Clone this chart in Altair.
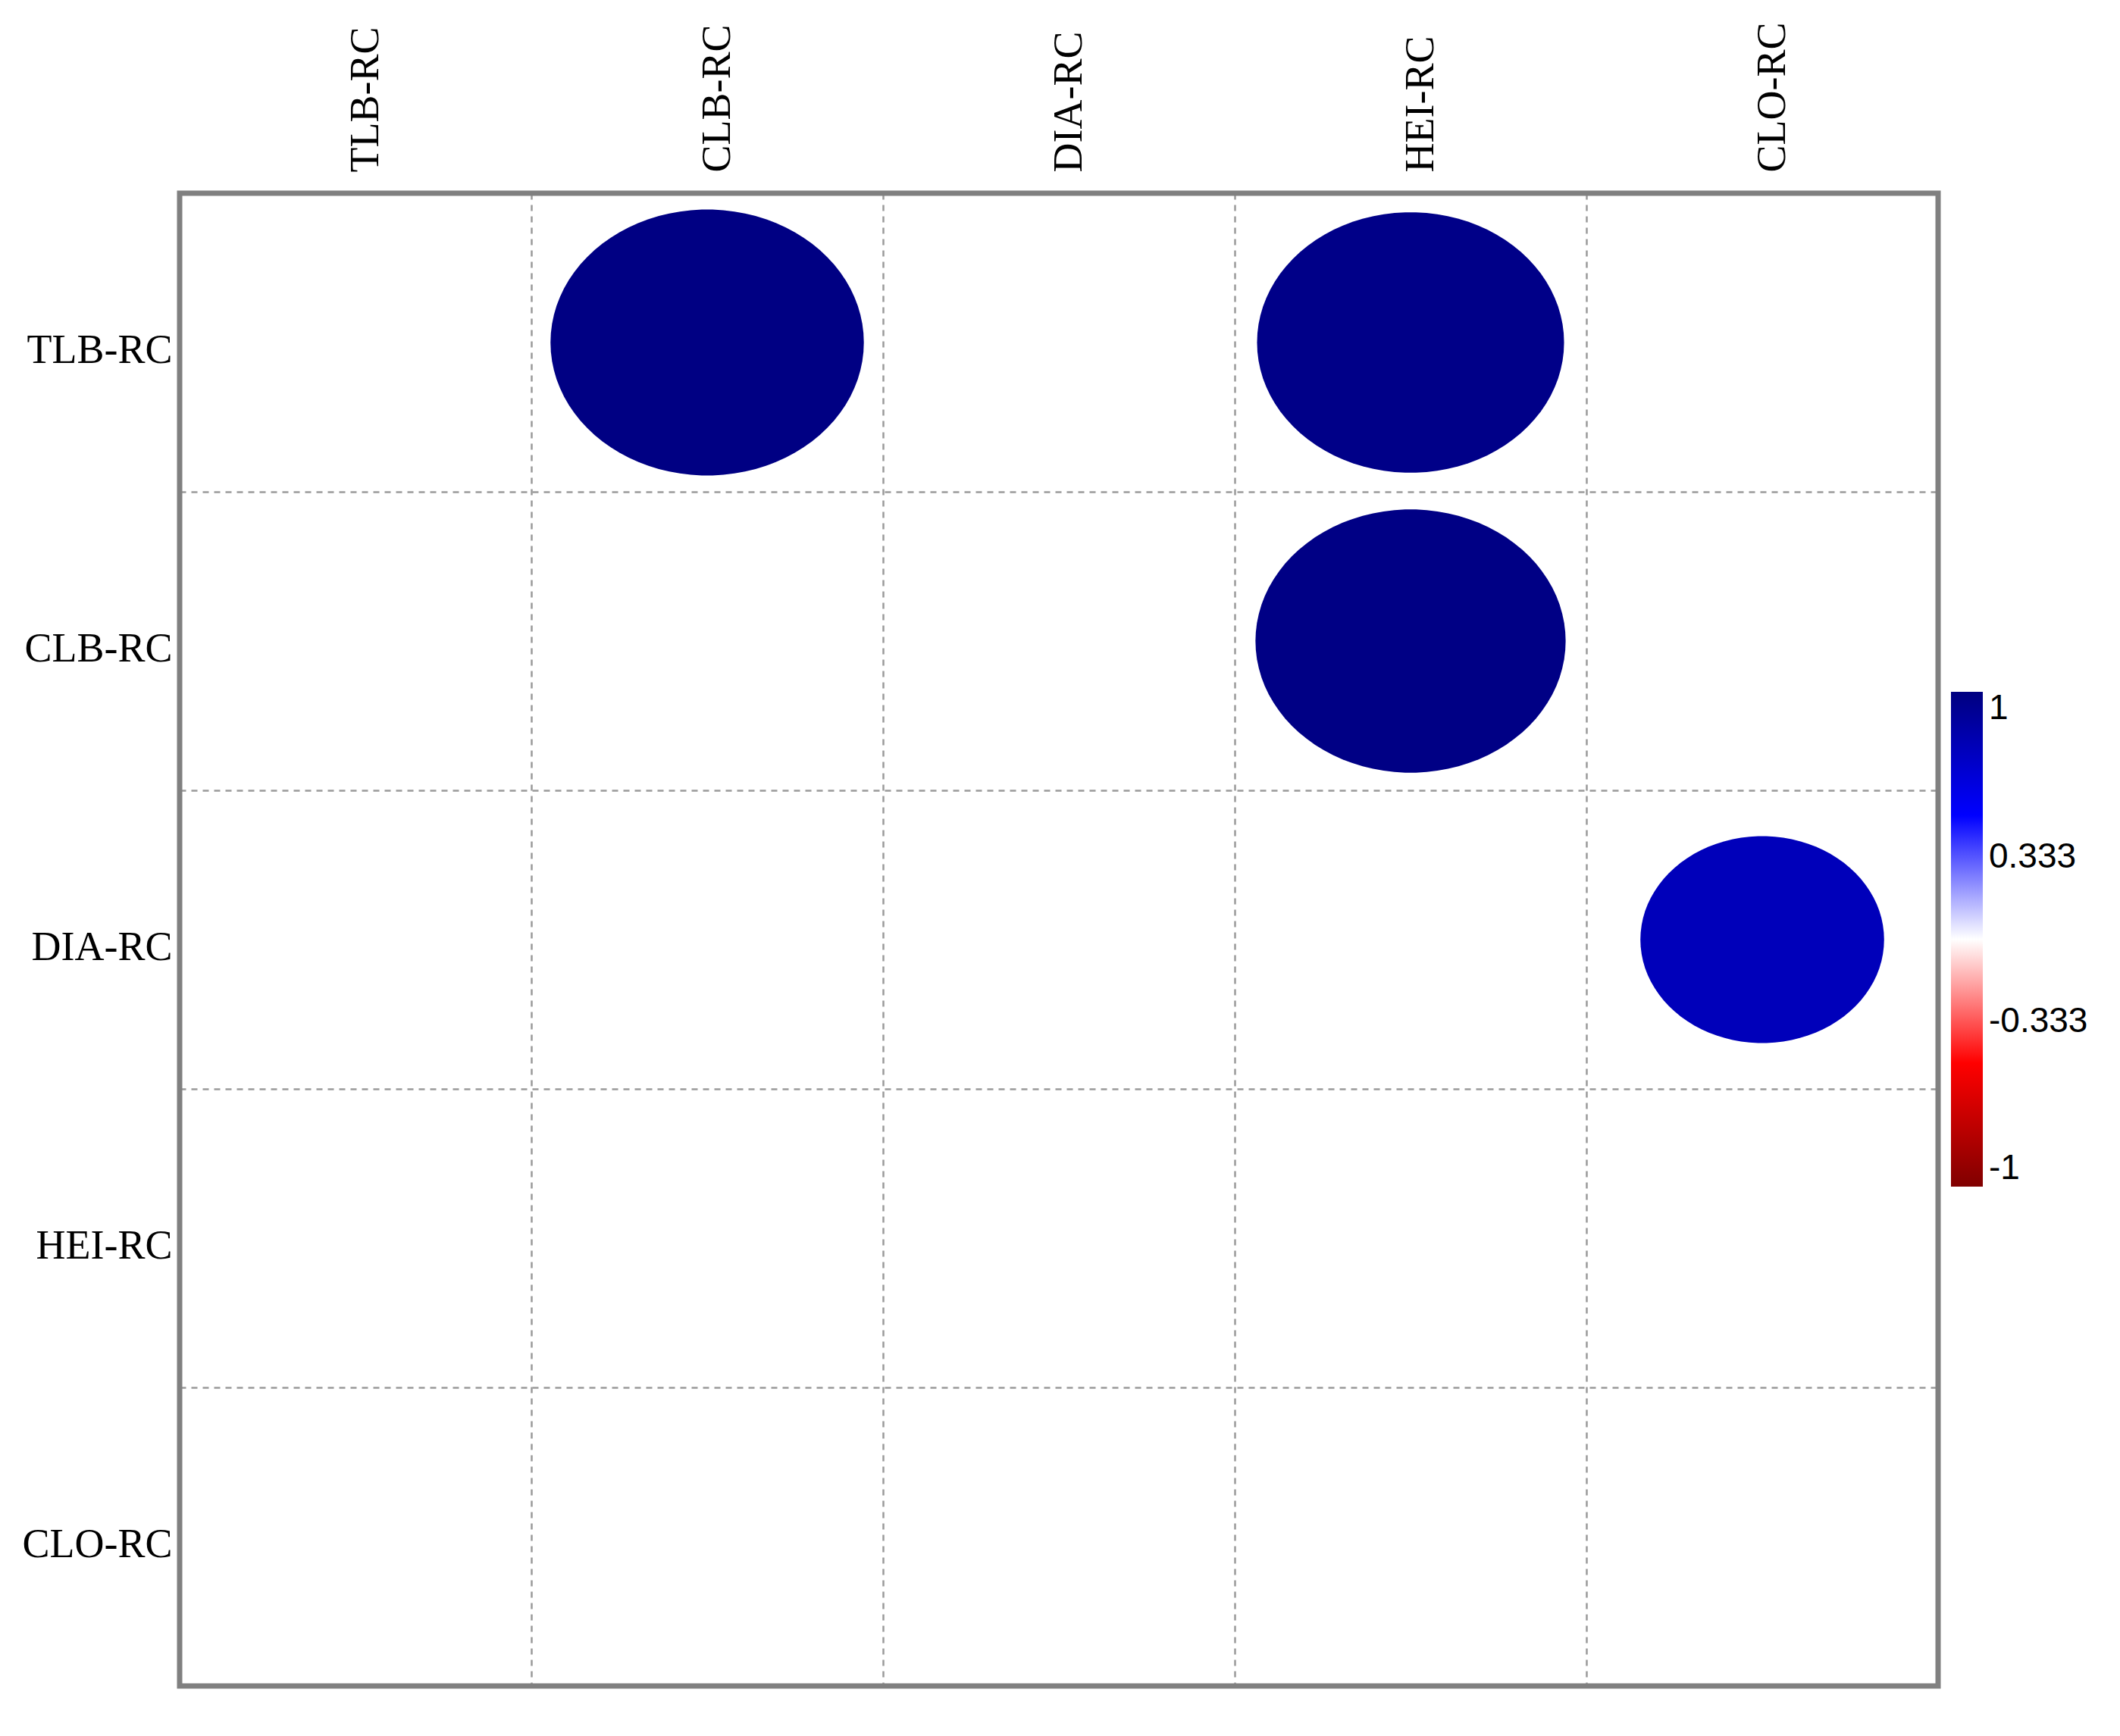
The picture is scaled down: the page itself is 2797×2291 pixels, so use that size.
import math
import altair as alt
import pandas as pd

# categories
labels = ["TLB-RC", "CLB-RC", "DIA-RC", "HEI-RC", "CLO-RC"]

# significant correlations shown in the matrix
row_vars = ["TLB-RC", "TLB-RC", "CLB-RC", "DIA-RC"]
col_vars = ["CLB-RC", "HEI-RC", "HEI-RC", "CLO-RC"]
corr_vals = [0.99, 0.97, 0.98, 0.77]

legend_ticks = [-1, -0.333, 0.333, 1]

W, H = 2320, 1970
n = len(labels)
cell_w, cell_h = W / n, H / n

df = pd.DataFrame({"row": row_vars, "col": col_vars, "r": corr_vals})
df["absr"] = df["r"].abs()

# ellipse symbol matching the cell aspect ratio
k = cell_h / cell_w
pts = [(math.cos(2 * math.pi * i / 90), k * math.sin(2 * math.pi * i / 90)) for i in range(90)]
ellipse_path = "M" + " L".join(f"{x:.4f},{y:.4f}" for x, y in pts) + " Z"

font_serif = "Liberation Serif"
fs = 54

base = alt.Chart(df).mark_point(
    shape=ellipse_path, filled=True, opacity=1, strokeWidth=0
).encode(
    x=alt.X("col:N", sort=labels, scale=alt.Scale(domain=labels, paddingInner=0, paddingOuter=0),
            axis=alt.Axis(orient="top", title=None, labelAngle=270, labelAlign="left",
                          labelBaseline="middle", labelPadding=28, labelOffset=13,
                          labelLimit=1000,
                          ticks=False, domain=False, grid=True, tickBand="extent",
                          gridColor="#9a9a9a", gridDash=[8, 7], gridWidth=2.5,
                          labelFont=font_serif, labelFontSize=fs, labelColor="black")),
    y=alt.Y("row:N", sort=labels, scale=alt.Scale(domain=labels, paddingInner=0, paddingOuter=0),
            axis=alt.Axis(orient="left", title=None, labelPadding=10, labelOffset=10,
                          labelLimit=1000,
                          ticks=False, domain=False, grid=True, tickBand="extent",
                          gridColor="#9a9a9a", gridDash=[8, 7], gridWidth=2.5,
                          labelFont=font_serif, labelFontSize=fs, labelColor="black")),
    size=alt.Size("absr:Q", scale=alt.Scale(type="pow", exponent=2, domain=[0, 1],
                                            range=[0, (0.9 * cell_w) ** 2]), legend=None),
    color=alt.Color("r:Q",
                    scale=alt.Scale(domain=[-1, -0.5, 0, 0.5, 1], interpolate="rgb",
                                    range=["#800000", "#ff0000", "#ffffff", "#0000ff", "#000080"]),
                    legend=alt.Legend(title=None, orient="none", legendX=2337, legendY=658,
                                      direction="vertical", gradientLength=653,
                                      gradientThickness=42, gradientStrokeWidth=0,
                                      values=legend_ticks, labelExpr="toString(datum.value)",
                                      labelFont="Liberation Sans",
                                      labelFontSize=46,
                                      labelColor="black", labelOffset=8,
                                      labelBaseline="middle", padding=0,
                                      labelOverlap=False)),
)

frame = alt.Chart(alt.Data(values=[{}])).mark_rect(
    fillOpacity=0, stroke="#808080", strokeWidth=7
).encode(
    x=alt.value(0), x2=alt.value(W), y=alt.value(0), y2=alt.value(H)
)

chart = alt.layer(base, frame).properties(
    width=W, height=H,
    autosize=alt.AutoSizeParams(type="none"),
    padding={"left": 229, "top": 247, "right": 232, "bottom": 58},
).configure_view(stroke=None).configure(background="white")

chart.save("out.html", embed_options={"renderer": "svg", "actions": False})
